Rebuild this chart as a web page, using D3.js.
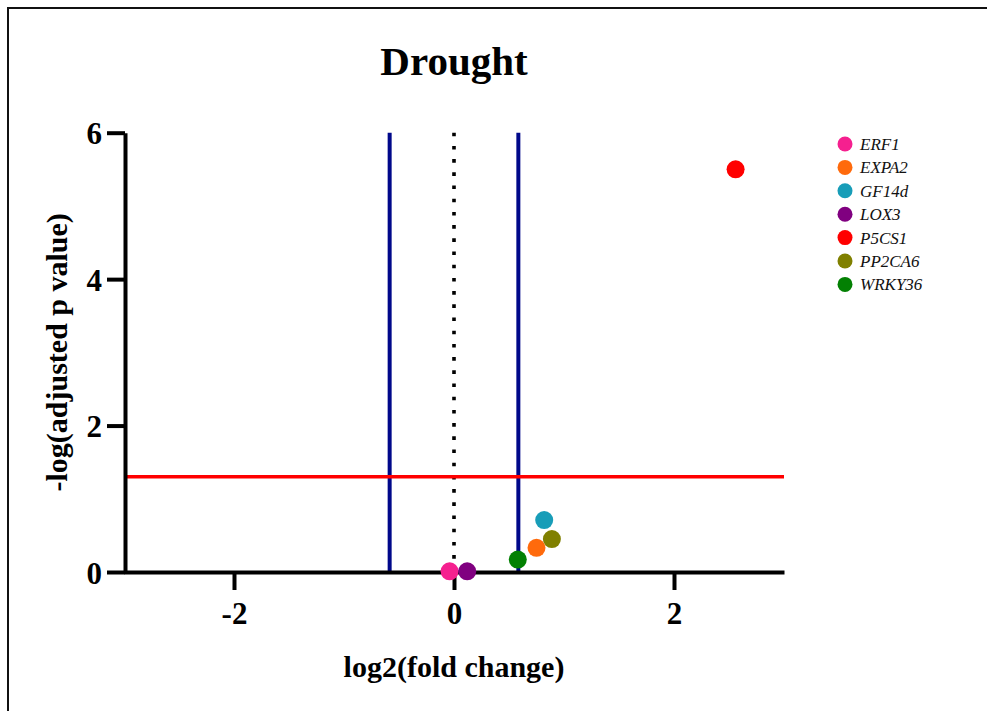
<!DOCTYPE html>
<html>
<head>
<meta charset="utf-8">
<script src="https://cdn.jsdelivr.net/npm/d3@7"></script>
<style>
  html, body { margin: 0; padding: 0; background: #fff; }
  svg { display: block; }
  text { font-family: "Liberation Serif", "Times New Roman", serif; }
</style>
</head>
<body>
<svg id="chart" width="987" height="711"></svg>
<script>
// Volcano plot data: gene, log2 fold change, -log10 adjusted p value
const genes = ["ERF1", "EXPA2", "GF14d", "LOX3", "P5CS1", "PP2CA6", "WRKY36"];
const log2FC = [-0.04, 0.75, 0.82, 0.12, 2.56, 0.89, 0.58];
const negLogP = [0.01, 0.33, 0.71, 0.01, 5.50, 0.45, 0.17];
const geneColors = ["#f5208f", "#ff6a0c", "#189db8", "#800080", "#ff0000", "#808000", "#038003"];

const xTicks = [-2, 0, 2];
const yTicks = [0, 2, 4, 6];
const fcCutoff = 0.585;      // log2(1.5)
const pCutoff = 1.301;       // -log10(0.05)

const svg = d3.select("#chart");

// outer frame
svg.append("rect")
  .attr("x", 8).attr("y", 8)
  .attr("width", 1000).attr("height", 720)
  .attr("fill", "none").attr("stroke", "#111").attr("stroke-width", 2);

const x = d3.scaleLinear().domain([-3, 3]).range([124, 784]);
const y = d3.scaleLinear().domain([0, 6]).range([572, 132.7]);

// title
svg.append("text")
  .attr("x", x(0)).attr("y", 75)
  .attr("text-anchor", "middle")
  .attr("font-size", 41).attr("font-weight", "bold")
  .text("Drought");

// threshold lines
const guides = svg.append("g");
[-fcCutoff, fcCutoff].forEach(v => {
  guides.append("line")
    .attr("x1", x(v)).attr("x2", x(v))
    .attr("y1", y(6)).attr("y2", y(0))
    .attr("stroke", "#00088a").attr("stroke-width", 4);
});
guides.append("line")
  .attr("x1", x(0)).attr("x2", x(0))
  .attr("y1", y(6)).attr("y2", y(0))
  .attr("stroke", "#000").attr("stroke-width", 3.6)
  .attr("stroke-dasharray", "3.6 9.6");
guides.append("line")
  .attr("x1", x(-3)).attr("x2", x(3))
  .attr("y1", y(pCutoff)).attr("y2", y(pCutoff))
  .attr("stroke", "#ff0000").attr("stroke-width", 3.5);

// axes
const xAxis = svg.append("g")
  .attr("transform", `translate(0,${y(0)})`)
  .call(d3.axisBottom(x).tickValues(xTicks).tickSize(18).tickSizeOuter(0).tickPadding(12)
    .tickFormat(d => d < 0 ? "-" + Math.abs(d) : String(d)));
const yAxis = svg.append("g")
  .attr("transform", `translate(${x(-3) + 1},0)`)
  .call(d3.axisLeft(y).tickValues(yTicks).tickSize(18).tickSizeOuter(0).tickPadding(5)
    .tickFormat(d3.format("d")));

[xAxis, yAxis].forEach(a => {
  a.select(".domain").attr("stroke", "#000").attr("stroke-width", 4);
  a.selectAll(".tick line").attr("stroke", "#000").attr("stroke-width", 4);
  a.selectAll(".tick text")
    .attr("font-family", "'Liberation Serif', 'Times New Roman', serif")
    .attr("font-size", 31).attr("font-weight", "bold").attr("fill", "#000");
});
yAxis.selectAll(".tick text").attr("dy", "0.36em");

// axis titles
svg.append("text")
  .attr("x", x(0)).attr("y", 677)
  .attr("text-anchor", "middle")
  .attr("font-size", 30).attr("font-weight", "bold")
  .text("log2(fold change)");
svg.append("text")
  .attr("transform", `translate(67,${y(3)}) rotate(-90)`)
  .attr("text-anchor", "middle")
  .attr("font-size", 30).attr("font-weight", "bold")
  .text("-log(adjusted p value)");

// points
svg.append("g").selectAll("circle")
  .data(genes)
  .join("circle")
  .attr("cx", (d, i) => x(log2FC[i]))
  .attr("cy", (d, i) => y(negLogP[i]))
  .attr("r", 9)
  .attr("fill", (d, i) => geneColors[i]);

// legend
const legend = svg.append("g").attr("transform", "translate(845,144)");
const rows = legend.selectAll("g")
  .data(genes)
  .join("g")
  .attr("transform", (d, i) => `translate(0,${i * 23.4})`);
rows.append("circle").attr("r", 7.5).attr("fill", (d, i) => geneColors[i]);
rows.append("text")
  .attr("x", 15).attr("dy", "0.35em")
  .attr("font-size", 17).attr("font-style", "italic")
  .attr("fill", "#111")
  .text(d => d);
</script>
</body>
</html>
